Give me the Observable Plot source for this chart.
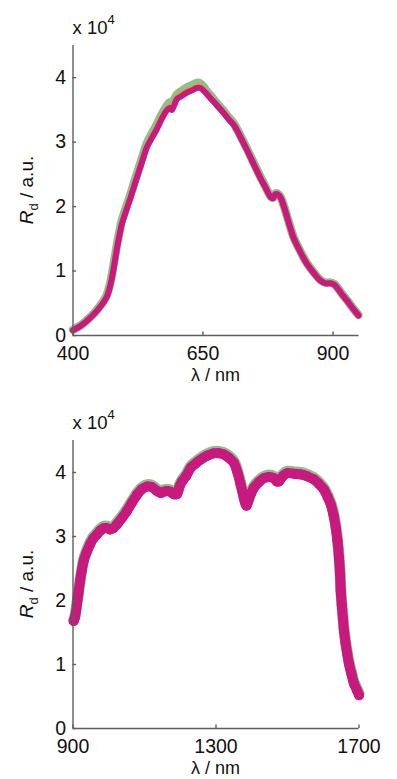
<!DOCTYPE html>
<html><head><meta charset="utf-8">
<script src="https://cdn.jsdelivr.net/npm/d3@7"></script>
<script src="https://cdn.jsdelivr.net/npm/@observablehq/plot@0.6"></script>
<style>
html,body{margin:0;padding:0;background:#fff}
#charts svg{display:block}
</style>
</head><body><div id="charts"></div>
<script>
// ---- Visible range (values in units of 10^4) ----
const visWl = [400,415,427,440,452,460,465,470,475,480,485,490,494,500,510,523,535,542,552,561,570,580,586,590,595,600,610,619,628,638,645,651,657,667,677,690,700,709,722,735,748,760,770,781,785,789,794,799,806,812,818,824,837,850,863,876,886,895,902,908,917,927,938,949];
const visMagenta = [0.08,0.15,0.23,0.33,0.44,0.53,0.60,0.72,0.90,1.13,1.37,1.58,1.73,1.88,2.12,2.45,2.75,2.92,3.07,3.20,3.35,3.49,3.53,3.50,3.58,3.67,3.72,3.77,3.80,3.84,3.84,3.80,3.75,3.66,3.57,3.45,3.35,3.27,3.08,2.87,2.65,2.45,2.30,2.14,2.13,2.19,2.19,2.14,1.99,1.83,1.67,1.52,1.30,1.11,0.97,0.85,0.81,0.81,0.79,0.74,0.64,0.54,0.42,0.31];
const visGreen = [0.09,0.16,0.24,0.34,0.46,0.55,0.63,0.76,0.95,1.19,1.43,1.64,1.79,1.94,2.18,2.51,2.81,2.98,3.14,3.27,3.42,3.56,3.62,3.62,3.67,3.74,3.80,3.85,3.88,3.92,3.91,3.86,3.79,3.70,3.60,3.48,3.38,3.29,3.10,2.89,2.67,2.47,2.31,2.15,2.14,2.20,2.20,2.15,2.00,1.84,1.68,1.53,1.31,1.12,0.98,0.86,0.82,0.82,0.80,0.75,0.65,0.55,0.43,0.32];
const visOrange = [0.08,0.15,0.23,0.33,0.44,0.53,0.60,0.72,0.91,1.14,1.38,1.59,1.74,1.89,2.13,2.46,2.76,2.93,3.08,3.21,3.36,3.50,3.54,3.52,3.60,3.69,3.74,3.79,3.82,3.86,3.86,3.81,3.76,3.66,3.57,3.45,3.35,3.27,3.08,2.87,2.65,2.45,2.30,2.14,2.13,2.19,2.19,2.14,1.99,1.83,1.67,1.52,1.30,1.11,0.97,0.85,0.81,0.81,0.79,0.74,0.64,0.54,0.42,0.31];

// ---- NIR range (values in units of 10^4) ----
const nirWl = [902,906,911,915,920,925,930,938,948,957,967,976,986,995,1004,1013,1023,1037,1051,1065,1079,1093,1107,1121,1135,1145,1154,1163,1172,1182,1191,1198,1205,1217,1229,1243,1257,1275,1294,1308,1322,1336,1350,1360,1369,1378,1385,1392,1399,1406,1420,1434,1448,1462,1470,1476,1488,1500,1518,1537,1555,1574,1588,1602,1612,1621,1629,1635,1640,1644,1647,1649,1652,1655,1658,1662,1667,1672,1679,1686,1694,1700];
const nirMagenta = [1.68,1.75,1.94,2.10,2.31,2.48,2.62,2.75,2.88,2.97,3.03,3.09,3.13,3.13,3.11,3.13,3.19,3.29,3.40,3.53,3.65,3.74,3.78,3.77,3.71,3.68,3.70,3.71,3.70,3.66,3.66,3.78,3.86,3.95,4.07,4.14,4.20,4.26,4.30,4.30,4.28,4.23,4.15,4.00,3.81,3.60,3.48,3.58,3.68,3.76,3.85,3.91,3.93,3.91,3.86,3.86,3.95,3.99,3.98,3.97,3.94,3.89,3.82,3.73,3.62,3.50,3.33,3.14,2.92,2.67,2.42,2.15,1.92,1.72,1.53,1.35,1.17,1.01,0.85,0.70,0.60,0.52];
const nirGreen = [1.70,1.77,1.96,2.12,2.33,2.50,2.65,2.78,2.91,3.00,3.06,3.12,3.16,3.16,3.14,3.16,3.22,3.32,3.43,3.56,3.68,3.77,3.81,3.80,3.74,3.71,3.73,3.74,3.73,3.69,3.69,3.81,3.89,3.98,4.10,4.17,4.23,4.29,4.33,4.33,4.31,4.26,4.18,4.03,3.84,3.63,3.51,3.61,3.71,3.79,3.88,3.94,3.96,3.94,3.89,3.89,3.98,4.02,4.01,4.00,3.97,3.92,3.85,3.76,3.65,3.53,3.36,3.17,2.95,2.70,2.45,2.18,1.95,1.75,1.56,1.38,1.20,1.04,0.88,0.73,0.63,0.55];

// ---- ticks & labels ----
const visXTicks = [400,650,900];
const nirXTicks = [900,1300,1700];
const yTicks = [0,1,2,3,4];
const xLabel = "λ / nm";
const yLabelMain = "R", yLabelSub = "d", yLabelRest = " / a.u.";

const FONT = "'Liberation Sans', Arial, Helvetica, sans-serif";
const MAGENTA = "#c8197f", GREEN = "#8fbf8c", ORANGE = "#e89a2c", AXIS = "#5e5e5e";
const W = 397, ML = 72.5, MR = 38.5;

function panel({wl, mag, green, orange, xDomain, xTicks, height, marginTop, marginBottom, nir}) {
  const rows = (arr) => wl.map((w, i) => ({w, v: arr[i]}));
  const innerH = height - marginTop - marginBottom;
  const innerW = W - ML - MR;
  const marks = [];
  if (nir) {
    marks.push(Plot.line(rows(green), {x: "w", y: "v", stroke: GREEN, strokeWidth: 11, strokeLinecap: "round", strokeLinejoin: "round", curve: "catmull-rom"}));
    marks.push(Plot.line(rows(mag), {x: "w", y: "v", stroke: MAGENTA, strokeWidth: 10, strokeLinecap: "round", strokeLinejoin: "round", curve: "catmull-rom"}));
    marks.push(Plot.dot(rows(mag), {x: "w", y: "v", fill: MAGENTA, r: 5}));
  } else {
    marks.push(Plot.line(rows(green), {x: "w", y: "v", stroke: GREEN, strokeWidth: 8.5, strokeLinecap: "round", strokeLinejoin: "round", curve: "catmull-rom"}));
    marks.push(Plot.line(rows(orange), {x: "w", y: "v", stroke: ORANGE, strokeWidth: 6, strokeLinecap: "round", strokeLinejoin: "round", curve: "catmull-rom"}));
    marks.push(Plot.line(rows(mag), {x: "w", y: "v", stroke: MAGENTA, strokeWidth: 6, strokeLinecap: "round", strokeLinejoin: "round", curve: "catmull-rom"}));
  }
  // axis lines
  marks.push(Plot.ruleX([xDomain[0]], {stroke: AXIS, strokeWidth: 1.4}));
  marks.push(Plot.ruleY([0], {stroke: AXIS, strokeWidth: 1.4}));
  // inward ticks
  marks.push(Plot.tickX(xTicks, {x: d => d, stroke: AXIS, strokeWidth: 1.4, insetTop: innerH - 3.5}));
  marks.push(Plot.tickY(yTicks, {y: d => d, stroke: AXIS, strokeWidth: 1.4, insetRight: innerW - 3.5}));
  // tick labels
  marks.push(Plot.axisX(xTicks, {tickSize: 0, tickPadding: 11, fontSize: 19.5, fill: "#111", label: null, tickFormat: d => String(d)}));
  marks.push(Plot.axisY(yTicks, {tickSize: 0, tickPadding: 7, fontSize: 19.5, fill: "#111", label: null, tickFormat: d => String(d)}));

  const svg = Plot.plot({
    width: W, height, marginLeft: ML, marginRight: MR, marginTop, marginBottom,
    x: {domain: xDomain}, y: {domain: [0, 4.5]},
    style: {fontFamily: FONT, background: "white", overflow: "visible"},
    marks
  });
  const s = d3.select(svg);
  const yMid = marginTop + innerH / 2;
  // multiplier label
  const mult = s.append("text").attr("x", ML).attr("y", marginTop - 11)
    .attr("text-anchor", "start")
    .attr("font-family", FONT).attr("font-size", 18.5).attr("fill", "#111");
  mult.append("tspan").text("x 10");
  mult.append("tspan").attr("font-size", 13).attr("dy", -10).text("4");
  // x label
  s.append("text").attr("x", ML + innerW / 2).attr("y", height - marginBottom + 46)
    .attr("text-anchor", "middle").attr("font-family", FONT).attr("font-size", 18).attr("fill", "#111")
    .text(xLabel);
  // y label
  const yl = s.append("text").attr("transform", `translate(33,${yMid}) rotate(-90)`)
    .attr("text-anchor", "middle").attr("font-family", FONT).attr("font-size", 19).attr("fill", "#111");
  yl.append("tspan").attr("font-style", "italic").text(yLabelMain);
  yl.append("tspan").attr("font-size", 13).attr("dy", 5).text(yLabelSub);
  yl.append("tspan").attr("dy", -5).text(yLabelRest);
  return svg;
}

const root = document.getElementById("charts");
root.appendChild(panel({wl: visWl, mag: visMagenta, green: visGreen, orange: visOrange, xDomain: [400, 950], xTicks: visXTicks, height: 390, marginTop: 45, marginBottom: 55, nir: false}));
root.appendChild(panel({wl: nirWl, mag: nirMagenta, green: nirGreen, xDomain: [900, 1700], xTicks: nirXTicks, height: 389, marginTop: 50, marginBottom: 51, nir: true}));
</script>
</body></html>
